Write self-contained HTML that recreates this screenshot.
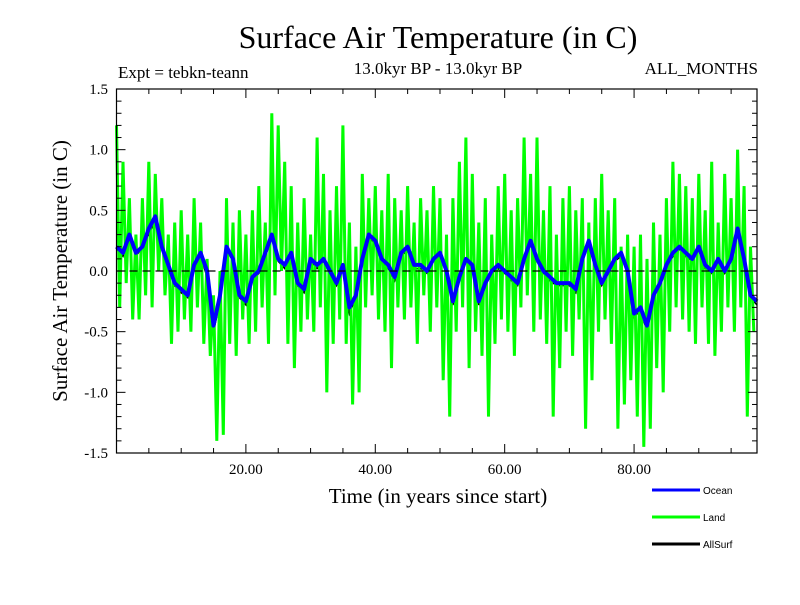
<!DOCTYPE html>
<html><head><meta charset="utf-8"><style>
body{margin:0;background:#fff}
svg text{font-family:"Liberation Serif",serif}
</style></head><body>
<svg id="chart" width="800" height="600" xmlns="http://www.w3.org/2000/svg">
<rect width="800" height="600" fill="#fff"/>
<text x="438" y="48" font-size="32" text-anchor="middle">Surface Air Temperature (in C)</text>
<text x="118" y="78" font-size="17">Expt = tebkn-teann</text>
<text x="438" y="74" font-size="17" text-anchor="middle">13.0kyr BP - 13.0kyr BP</text>
<text x="758" y="74" font-size="17" text-anchor="end">ALL_MONTHS</text>
<text x="438" y="503" font-size="21" text-anchor="middle">Time (in years since start)</text>
<text transform="translate(67,271) rotate(-90)" font-size="21" text-anchor="middle">Surface Air Temperature (in C)</text>
<g id="plot"></g>
<g id="legend">
<line x1="652" y1="490" x2="700" y2="490" stroke="#0000ff" stroke-width="3"/>
<text x="703" y="494" font-size="10" style="font-family:'Liberation Sans',sans-serif">Ocean</text>
<line x1="652" y1="517" x2="700" y2="517" stroke="#00ff00" stroke-width="3"/>
<text x="703" y="521" font-size="10" style="font-family:'Liberation Sans',sans-serif">Land</text>
<line x1="652" y1="544" x2="700" y2="544" stroke="#000" stroke-width="3"/>
<text x="703" y="548" font-size="10" style="font-family:'Liberation Sans',sans-serif">AllSurf</text>
</g>
</svg>
<script>
const xTicks=[20,40,60,80];
const xTickLabels=["20.00","40.00","60.00","80.00"];
const yTicks=[1.5,1.0,0.5,0.0,-0.5,-1.0,-1.5];
const yTickLabels=["1.5","1.0","0.5","0.0","-0.5","-1.0","-1.5"];
const landStep=0.5;
const land=[1.2,-0.3,0.9,-0.1,0.6,-0.4,0.3,-0.4,0.6,-0.2,
0.9,-0.3,0.8,0.0,0.6,-0.2,0.3,-0.6,0.4,-0.5,
0.5,-0.4,0.3,-0.5,0.6,-0.3,0.4,-0.6,0.1,-0.7,
-0.2,-1.4,0.0,-1.35,0.6,-0.6,0.4,-0.7,0.5,-0.4,
0.3,-0.6,0.5,-0.5,0.7,-0.3,0.4,-0.6,1.3,-0.2,
1.2,0.0,0.9,-0.6,0.7,-0.8,0.4,-0.5,0.6,-0.4,
0.3,-0.5,1.1,-0.3,0.8,-1.0,0.5,-0.6,0.7,-0.4,
1.2,-0.6,0.4,-1.1,0.2,-1.0,0.8,-0.3,0.6,-0.2,
0.7,-0.4,0.5,-0.5,0.8,-0.8,0.6,-0.3,0.5,-0.4,
0.7,-0.3,0.4,-0.6,0.6,-0.2,0.5,-0.5,0.7,-0.3,
0.6,-0.9,0.3,-1.2,0.6,-0.5,0.9,-0.3,1.1,-0.8,
0.8,-0.5,0.4,-0.7,0.6,-1.2,0.3,-0.6,0.7,-0.4,
0.8,-0.5,0.5,-0.7,0.6,-0.3,1.1,-0.2,0.8,-0.5,
1.1,-0.4,0.5,-0.6,0.7,-1.2,0.3,-0.8,0.6,-0.5,
0.7,-0.7,0.5,-0.4,0.6,-1.3,0.4,-0.9,0.6,-0.5,
0.8,-0.4,0.5,-0.6,0.6,-1.3,0.2,-1.1,0.3,-0.9,
0.2,-1.2,0.3,-1.45,0.1,-1.3,0.4,-0.8,0.3,-1.0,
0.6,-0.5,0.9,-0.3,0.8,-0.4,0.7,-0.5,0.6,-0.6,
0.8,-0.3,0.5,-0.6,0.9,-0.7,0.4,-0.5,0.8,-0.3,
0.6,-0.5,1.0,-0.3,0.7,-1.2,0.2,-0.5];
const oceanStep=1;
const ocean=[0.2,0.15,0.3,0.15,0.2,0.35,0.45,0.2,0.05,-0.1,
-0.15,-0.2,0.05,0.15,0.0,-0.45,-0.2,0.2,0.1,-0.2,
-0.25,-0.05,0.0,0.15,0.3,0.1,0.05,0.15,-0.1,-0.15,
0.1,0.05,0.1,0.0,-0.1,0.05,-0.3,-0.2,0.1,0.3,
0.25,0.1,0.05,-0.05,0.15,0.2,0.05,0.05,0.0,0.1,
0.15,0.0,-0.25,-0.05,0.1,0.05,-0.25,-0.1,0.0,0.05,
0.0,-0.05,-0.1,0.1,0.25,0.1,0.0,-0.05,-0.1,-0.1,
-0.1,-0.15,0.1,0.25,0.05,-0.1,0.0,0.1,0.15,0.0,
-0.35,-0.3,-0.45,-0.2,-0.1,0.05,0.15,0.2,0.15,0.1,
0.2,0.05,0.0,0.1,0.0,0.1,0.35,0.1,-0.2,-0.25];
const allsurf=[0.18,0.12,0.28,0.12,0.2,0.3,0.42,0.18,0.02,-0.12,
-0.18,-0.22,0.02,0.12,-0.05,-0.5,-0.25,0.18,0.08,-0.22,
-0.28,-0.08,-0.02,0.12,0.28,0.08,0.02,0.12,-0.12,-0.18,
0.08,0.02,0.08,-0.02,-0.12,0.02,-0.35,-0.22,0.08,0.28,
0.22,0.08,0.02,-0.08,0.12,0.18,0.02,0.02,-0.02,0.08,
0.12,-0.02,-0.28,-0.08,0.08,0.02,-0.28,-0.12,-0.02,0.02,
-0.02,-0.08,-0.12,0.08,0.22,0.08,-0.02,-0.08,-0.12,-0.12,
-0.12,-0.18,0.08,0.22,0.02,-0.12,-0.02,0.08,0.12,-0.02,
-0.38,-0.32,-0.5,-0.22,-0.12,0.02,0.12,0.18,0.12,0.08,
0.18,0.02,-0.02,0.08,-0.02,0.08,0.32,0.08,-0.22,-0.28];

const L=116.5,R=757,T=89,B=453,X0=0,X1=99,Y0=-1.5,Y1=1.5;
const xs=v=>L+(v-X0)/(X1-X0)*(R-L);
const ys=v=>B-(v-Y0)/(Y1-Y0)*(B-T);
const NS="http://www.w3.org/2000/svg";
const g=document.getElementById('plot');
function mk(t,a){const e=document.createElementNS(NS,t);for(const k in a)e.setAttribute(k,a[k]);g.appendChild(e);return e;}
function pts(arr,step){return arr.map((v,i)=>xs(i*step).toFixed(1)+","+ys(v).toFixed(1)).join(" ");}

let e=mk('polyline',{points:pts(allsurf,oceanStep),fill:'none',stroke:'#000','stroke-width':1.5});


e=mk('polyline',{points:pts(land,landStep),fill:'none',stroke:'#00ff00','stroke-width':3});


e=mk('polyline',{points:pts(ocean,oceanStep),fill:'none',stroke:'#0000ff','stroke-width':4,'stroke-linejoin':'round'});


e=mk('line',{x1:L,x2:R,y1:ys(0),y2:ys(0),stroke:'#000','stroke-width':1.2,'stroke-dasharray':'8,5'});


e=mk('rect',{x:L,y:T,width:R-L,height:B-T,fill:'none',stroke:'#000','stroke-width':1.2});


for(let v=5;v<X1;v+=5){const x=xs(v),len=(v%20===0)?9:5;
 e=mk('line',{x1:x,x2:x,y1:B,y2:B-len,stroke:'#000','stroke-width':1});
 
 
 e=mk('line',{x1:x,x2:x,y1:T,y2:T+len,stroke:'#000','stroke-width':1});
 
 }
for(let k=-15;k<=15;k++){const v=k/10,y=ys(v),len=(k%5===0)?9:5;
 e=mk('line',{x1:L,x2:L+len,y1:y,y2:y,stroke:'#000','stroke-width':1});
 
 
 e=mk('line',{x1:R,x2:R-len,y1:y,y2:y,stroke:'#000','stroke-width':1});
 
 }
xTicks.forEach((v,i)=>{e=mk('text',{x:xs(v),y:474,'font-size':15,'text-anchor':'middle'});e.textContent=xTickLabels[i];
 
 });
yTicks.forEach((v,i)=>{e=mk('text',{x:108,y:ys(v)+5,'font-size':15,'text-anchor':'end'});e.textContent=yTickLabels[i];
 
 });
</script>
</body></html>
